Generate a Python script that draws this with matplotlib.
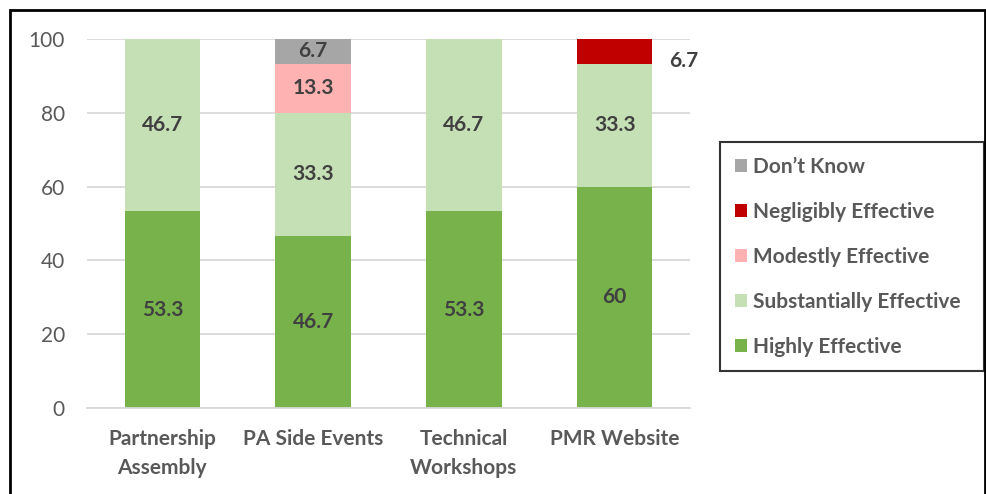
import numpy as np
import matplotlib.pyplot as plt
from matplotlib.patches import Rectangle

# chart values
categories = ["Partnership\nAssembly", "PA Side Events", "Technical\nWorkshops", "PMR Website"]
highly = [53.3, 46.7, 53.3, 60]
substantially = [46.7, 33.3, 46.7, 33.3]
modestly = [0, 13.3, 0, 0]
negligibly = [0, 0, 0, 6.7]
dont_know = [0, 6.7, 0, 0]
y_ticks = [0, 20, 40, 60, 80, 100]

series = [
    ("Highly Effective", highly, "#77B24B"),
    ("Substantially Effective", substantially, "#C5E0B4"),
    ("Modestly Effective", modestly, "#FFB2B2"),
    ("Negligibly Effective", negligibly, "#C00000"),
    ("Don\u2019t Know", dont_know, "#A6A6A6"),
]

plt.rcParams['font.family'] = ['Lato', 'DejaVu Sans']
FS = 15

fig = plt.figure(figsize=(9.87, 4.94), dpi=100)
ax = fig.add_axes([87 / 987, 1 - 408 / 494, 603 / 987, 369 / 494])

x = np.arange(len(categories))
bottom = np.zeros(len(categories))
handles = []
for name, vals, col in series:
    vals = np.array(vals, dtype=float)
    bars = ax.bar(x, vals, width=0.5, bottom=bottom, color=col, label=name, zorder=2)
    handles.append(bars)
    for i, v in enumerate(vals):
        if v <= 0:
            continue
        label = "%g" % v
        if name.startswith("Negligibly"):
            # small slice: label goes outside the bar
            ax.text(x[i] + 0.36, bottom[i] + v / 2 - 2.5, label, ha='left', va='center',
                    fontsize=FS, fontweight='bold', color='#404040')
        else:
            ax.text(x[i], bottom[i] + v / 2, label, ha='center', va='center',
                    fontsize=FS, fontweight='bold', color='#404040')
    bottom += vals

ax.set_xlim(-0.5, len(categories) - 0.5)
ax.set_ylim(0, 100)
ax.set_yticks(y_ticks)
ax.yaxis.grid(True, color='#D9D9D9', linewidth=1.3, zorder=0)
ax.set_axisbelow(True)
for s in ['top', 'right', 'left']:
    ax.spines[s].set_visible(False)
ax.spines['bottom'].set_color('#D9D9D9')
ax.spines['bottom'].set_linewidth(1.3)
ax.tick_params(axis='both', length=0)
ax.tick_params(axis='y', labelsize=FS, labelcolor='#595959', pad=16)
ax.set_xticks(x)
ax.set_xticklabels(categories, fontsize=FS, fontweight='bold', color='#595959',
                   linespacing=1.55)
ax.tick_params(axis='x', pad=15)

leg = fig.legend(handles[::-1], [s[0] for s in series][::-1],
                 loc='upper left',
                 bbox_to_anchor=(720 / 987, 1 - 367 / 494, 264 / 987, 225 / 494),
                 mode='expand',
                 frameon=True, fancybox=False, edgecolor='black',
                 prop={'size': FS, 'weight': 'bold'}, labelcolor='#595959',
                 handlelength=0.6, handleheight=0.6, handletextpad=0.3,
                 labelspacing=1.2, borderpad=0.7, borderaxespad=0)
leg.get_frame().set_linewidth(1.5)

# outer border of the chart
fig.patches.append(Rectangle((10 / 987, -0.05), 975 / 987, 1 - 10 / 494 + 0.05,
                             transform=fig.transFigure, fill=False,
                             edgecolor='black', linewidth=2))

fig.savefig("out.png", dpi=100)
